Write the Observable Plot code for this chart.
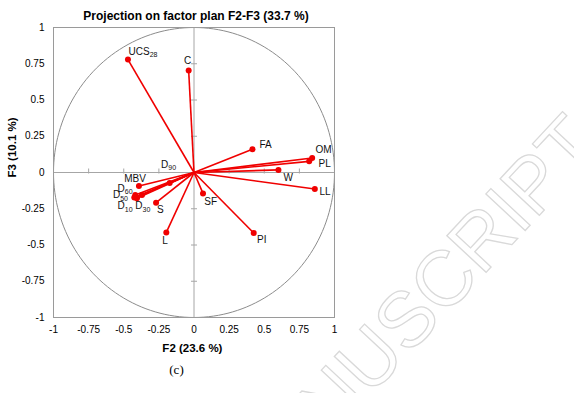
<!DOCTYPE html>
<html>
<head>
<meta charset="utf-8">
<script src="https://cdn.jsdelivr.net/npm/d3@7"></script>
<script src="https://cdn.jsdelivr.net/npm/@observablehq/plot@0.6"></script>
<style>
  html, body { margin: 0; padding: 0; background: #fff; }
  #chart { width: 574px; height: 393px; }
</style>
</head>
<body>
<div id="chart"></div>
<script>
// ---- data ----
const names = ["UCS_28", "C", "FA", "OM", "PL", "W", "LL", "PI", "SF", "L", "S", "D_90", "MBV", "D_60", "D_50", "D_10", "D_30"];
const f2 = [-0.470, -0.038, 0.416, 0.841, 0.820, 0.601, 0.860, 0.425, 0.064, -0.197, -0.270, -0.173, -0.392, -0.418, -0.425, -0.406, -0.370];
const f3 = [0.779, 0.703, 0.160, 0.100, 0.077, 0.018, -0.114, -0.417, -0.144, -0.413, -0.208, -0.072, -0.093, -0.155, -0.172, -0.178, -0.155];
const axisTicks = [-1, -0.75, -0.5, -0.25, 0, 0.25, 0.5, 0.75, 1];
const titleText = "Projection on factor plan F2-F3 (33.7 %)";
const xLabel = "F2 (23.6 %)";
const yLabel = "F3 (10.1 %)";
const caption = "(c)";

// ---- label placement (pixels, relative to each point) ----
const labelDx = [0.6, -4.6, 7, 3.3, 9.3, 5, 4.7, 3.4, 1.3, -4, 1, -8.6, -14.7, -17.7, -21.3, -19.4, -6.7];
const labelDy = [-8, -10, -5, -8, 2.3, 7.7, 2.7, 6.7, 8.3, 8, 7, -18.3, -7.3, -6.6, -2.2, 7.6, 11];

const points = names.map((name, i) => ({name, x: f2[i], y: f3[i], dx: labelDx[i], dy: labelDy[i]}));
const unitCircle = d3.range(0, 361, 2).map(a => ({x: Math.cos(a * Math.PI / 180), y: Math.sin(a * Math.PI / 180)}));
const innerTicks = axisTicks.filter(v => v !== 0 && Math.abs(v) !== 1);

const tickUp = {draw(ctx) { ctx.moveTo(0, 1); ctx.lineTo(0, -4); }};
const tickSide = {draw(ctx) { ctx.moveTo(-3, 0); ctx.lineTo(3, 0); }};

const RED = "#f00000";
const GRAY = "#a6a6a6";

const chart = Plot.plot({
  width: 574,
  height: 393,
  marginLeft: 53,
  marginRight: 240,
  marginTop: 27,
  marginBottom: 76,
  style: {fontFamily: "'Liberation Sans', Arial, sans-serif", background: "white", color: "black"},
  x: {domain: [-1, 1]},
  y: {domain: [-1, 1]},
  marks: [
    Plot.ruleX([0], {stroke: GRAY, strokeWidth: 1}),
    Plot.ruleY([0], {stroke: GRAY, strokeWidth: 1}),
    Plot.line(unitCircle, {x: "x", y: "y", stroke: "#8c8c8c", strokeWidth: 1}),
    Plot.dot(innerTicks, {x: d => d, y: () => 0, symbol: tickUp, r: 2, fill: "none", stroke: GRAY, strokeWidth: 1}),
    Plot.dot(innerTicks, {x: () => 0, y: d => d, symbol: tickSide, r: 2, fill: "none", stroke: GRAY, strokeWidth: 1}),
    Plot.frame({stroke: "#9a9a9a", strokeWidth: 1}),
    Plot.link(points, {x1: () => 0, y1: () => 0, x2: "x", y2: "y", stroke: RED, strokeWidth: 1.6}),
    Plot.dot(points, {x: "x", y: "y", r: 3, fill: RED}),
    ...points.map(p => Plot.text([p], {x: "x", y: "y", text: "name", dx: p.dx, dy: p.dy, textAnchor: "start", fontSize: 10, fill: "#111"})),
    Plot.axisX({ticks: axisTicks, tickSize: 0, tickPadding: 8, tickFormat: d => String(d), label: null, fontSize: 10}),
    Plot.axisY({ticks: axisTicks, tickSize: 0, tickPadding: 9, tickFormat: d => String(d), label: null, fontSize: 10}),
    Plot.text([titleText], {frameAnchor: "top", text: d => d, dx: 2, dy: -16, fontSize: 12, fontWeight: "bold"}),
    Plot.text([xLabel], {frameAnchor: "bottom", text: d => d, dx: -1.6, dy: 34, fontSize: 11.5, fontWeight: "bold"}),
    Plot.text([yLabel], {frameAnchor: "left", text: d => d, rotate: -90, dx: -41, dy: 5, fontSize: 11.5, fontWeight: "bold"}),
    Plot.text([caption], {frameAnchor: "bottom", text: d => d, dx: -17.5, dy: 56, fontSize: 13, fontFamily: "'Liberation Serif', 'Times New Roman', serif"})
  ]
});

// subscripts: "UCS_28" -> UCS + lowered small 28
chart.querySelectorAll("text").forEach(t => {
  const s = t.textContent;
  if (t.children.length === 0 && s.includes("_")) {
    const [base, sub] = s.split("_");
    t.textContent = base;
    const ts = document.createElementNS("http://www.w3.org/2000/svg", "tspan");
    ts.setAttribute("font-size", "7");
    ts.setAttribute("dy", "2.5");
    ts.textContent = sub;
    t.appendChild(ts);
  }
});

// faint outlined watermark behind the chart
const wm = document.createElementNS("http://www.w3.org/2000/svg", "text");
wm.setAttribute("transform", "translate(603,147) rotate(-47)");
wm.setAttribute("text-anchor", "end");
wm.setAttribute("font-size", "78");
wm.setAttribute("font-family", "'Liberation Sans', Arial, sans-serif");
wm.setAttribute("fill", "none");
wm.setAttribute("stroke", "#d9d9d9");
wm.setAttribute("stroke-width", "1.3");
wm.textContent = "ACCEPTED MANUSCRIPT";
const firstG = chart.querySelector("g");
chart.insertBefore(wm, firstG);

document.getElementById("chart").appendChild(chart);
</script>
</body>
</html>
